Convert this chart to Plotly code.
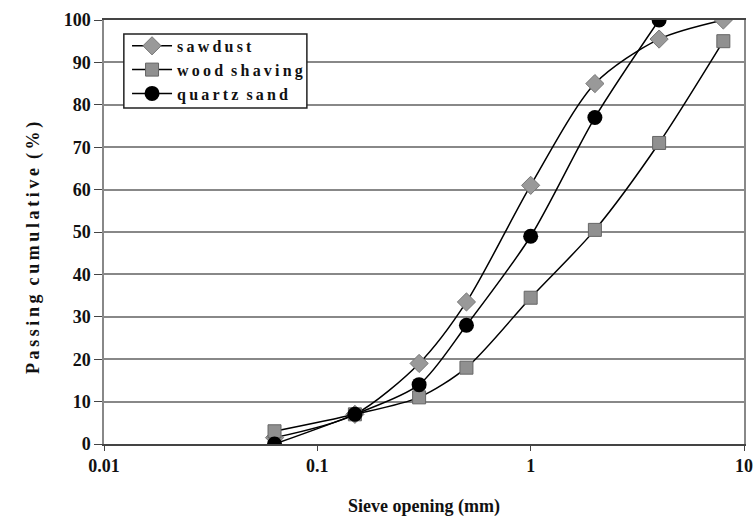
import plotly.graph_objects as go

sieve = [0.063, 0.15, 0.3, 0.5, 1, 2, 4, 8]
sawdust = [1.5, 7, 19, 33.5, 61, 85, 95.5, 100]
wood_x = [0.063, 0.15, 0.3, 0.5, 1, 2, 4, 8]
wood = [3, 7, 11, 18, 34.5, 50.5, 71, 95]
quartz_x = [0.063, 0.15, 0.3, 0.5, 1, 2, 4]
quartz = [0, 7, 14, 28, 49, 77, 100]

font = "Liberation Serif, serif"
TS = "\u2009"   # thin space between letters
EN = "\u2002"   # en space between words


def spaced(s, sep=TS, gap=EN):
    return gap.join(sep.join(w) for w in s.split(" "))


fig = go.Figure()
fig.add_trace(go.Scatter(x=sieve, y=sawdust, name="<b>" + spaced("sawdust") + "</b>", mode="lines+markers",
                         line=dict(color="black", width=1.5, shape="spline", smoothing=0.8),
                         marker=dict(symbol="diamond", size=14, color="#999999",
                                     line=dict(color="#777777", width=1))))
fig.add_trace(go.Scatter(x=wood_x, y=wood, name="<b>" + spaced("wood shaving") + "</b>", mode="lines+markers",
                         line=dict(color="black", width=1.5, shape="spline", smoothing=0.8),
                         marker=dict(symbol="square", size=13, color="#909090",
                                     line=dict(color="#666666", width=1))))
fig.add_trace(go.Scatter(x=quartz_x, y=quartz, name="<b>" + spaced("quartz sand") + "</b>", mode="lines+markers",
                         line=dict(color="black", width=1.5, shape="spline", smoothing=0.8),
                         marker=dict(symbol="circle", size=15, color="black")))

# legend frame
fig.add_shape(type="rect", xref="paper", yref="paper",
              x0=0.031, x1=0.317, y0=0.7925, y1=0.967,
              fillcolor="white", line=dict(color="#222222", width=1.5), layer="above")

# y-axis title (placed as annotation for exact position)
ytitle = spaced("Passing cumulative") + EN + TS.join("(%)")
fig.add_annotation(text="<b>" + ytitle + "</b>",
                   xref="paper", yref="paper", x=-0.111, y=0.462,
                   xanchor="center", yanchor="middle", textangle=-90, showarrow=False,
                   font=dict(family=font, size=18, color="#111111"))

fig.update_layout(
    width=756, height=521,
    margin=dict(l=104, r=12, t=20, b=77, autoexpand=False),
    paper_bgcolor="white", plot_bgcolor="white",
    font=dict(family=font, size=18, color="#111111"),
    showlegend=True,
    legend=dict(x=0.036, y=0.979, xanchor="left", yanchor="top",
                bgcolor="rgba(0,0,0,0)", borderwidth=0,
                font=dict(family=font, size=16, color="#111111"),
                itemwidth=40, tracegroupgap=0),
)
fig.update_xaxes(type="log", range=[-2, 1], automargin=False,
                 tickvals=[0.01, 0.1, 1, 10], ticktext=["<b>0.01</b>", "<b>0.1</b>", "<b>1</b>", "<b>10</b>"],
                 tickfont=dict(family=font, size=18, color="#111111"),
                 ticklabeloverflow="allow",
                 showgrid=False, zeroline=False,
                 showline=True, linecolor="#444444", linewidth=1.5, mirror=True,
                 ticks="outside", ticklen=5, tickcolor="#444444",
                 title=dict(text="<b>Sieve opening (mm)</b>", standoff=24,
                            font=dict(family=font, size=18, color="#111111")))
fig.update_yaxes(range=[0, 100], tickvals=list(range(0, 101, 10)), automargin=False,
                 ticktext=[f"<b>{v}</b>" for v in range(0, 101, 10)],
                 tickfont=dict(family=font, size=18, color="#111111"),
                 showgrid=True, gridcolor="#888888", gridwidth=1.5, zeroline=False,
                 showline=True, linecolor="#888888", linewidth=1.5, mirror=True,
                 ticks="outside", ticklen=8, tickcolor="#444444")

fig.write_html("out.html")
